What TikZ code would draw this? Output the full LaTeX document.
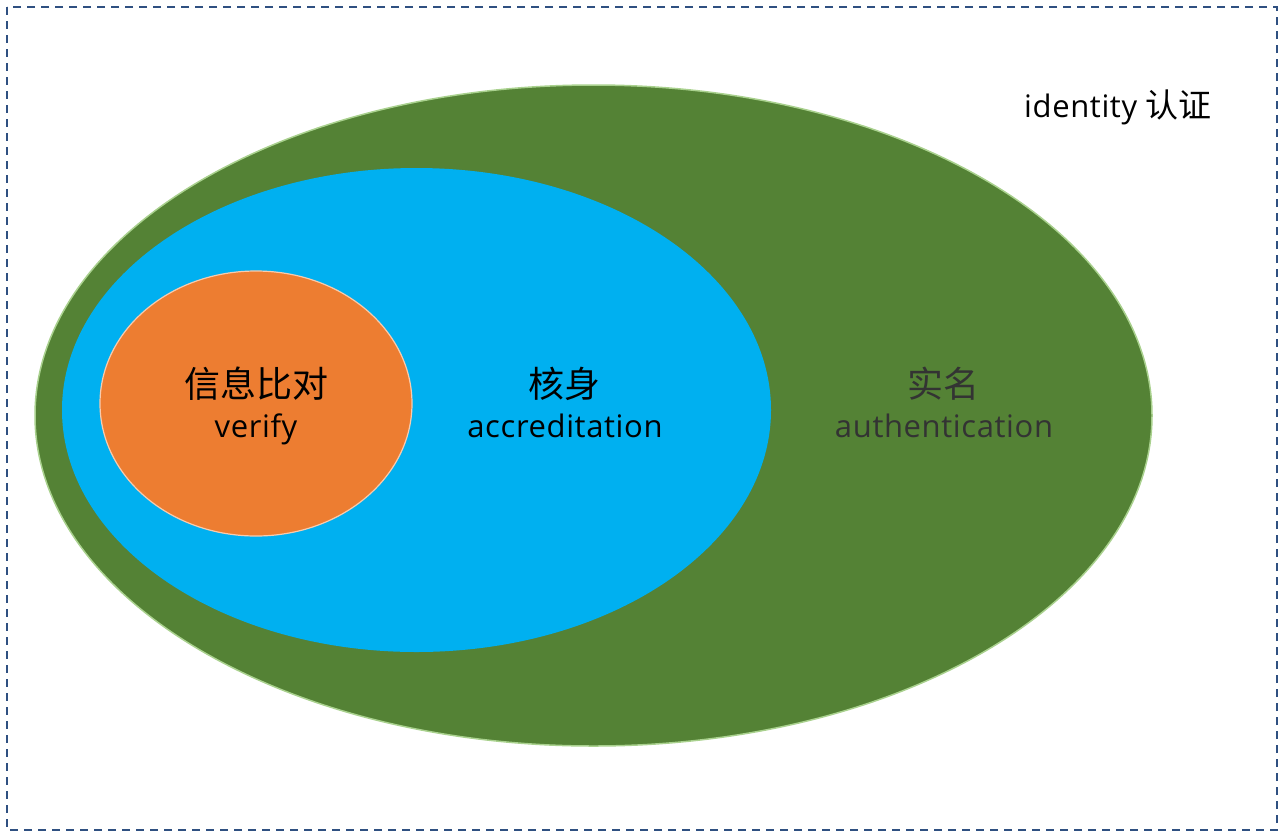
\documentclass[tikz,border=0pt]{standalone}
\usepackage{fontspec}
\usetikzlibrary{shapes.geometric}
\newfontfamily\cjk{Noto Sans CJK SC}
\newfontfamily\lat[LetterSpace=2]{Open Sans}
\definecolor{frameblue}{HTML}{2F5081}
\definecolor{outgreen}{HTML}{548235}
\definecolor{outgreenline}{HTML}{A9D18E}
\definecolor{midblue}{HTML}{00B0F0}
\definecolor{inorange}{HTML}{ED7D31}
\definecolor{inorangeline}{HTML}{F8CBAD}
\definecolor{darktext}{HTML}{333333}
\tikzset{
  blob/.style={ellipse, inner sep=0pt, outer sep=0pt},
  cjklabel/.style={anchor=base, inner sep=0pt, font=\cjk\fontsize{36}{40}\selectfont},
  latlabel/.style={anchor=base, inner sep=0pt, font=\lat\fontsize{31}{35}\selectfont},
}
\begin{document}
\begin{tikzpicture}[x=1pt,y=-1pt]
\useasboundingbox (0,0) rectangle (1285,839);
\draw[frameblue, line width=1.5pt, dash pattern=on 8pt off 6pt] (7,7) rectangle (1277,830);
\node[blob, fill=outgreen, draw=outgreenline, line width=1.5pt, minimum width=1117pt, minimum height=661pt] (green) at (593.5,415.5) {};
\node[blob, fill=midblue, minimum width=709pt, minimum height=484pt] (blue) at (416.5,410) {};
\node[blob, fill=inorange, draw=inorangeline, line width=1.2pt, minimum width=312pt, minimum height=265pt] (orange) at (256,403.5) {};
\node[cjklabel] (t1) at (256,397) {信息比对};
\node[latlabel] (t1b) at (256,437) {verify};
\node[cjklabel] (t2) at (564,397) {核身};
\node[latlabel] (t2b) at (565,437) {accreditation};
\node[cjklabel, text=darktext] (t3) at (943,397) {实名};
\node[latlabel, text=darktext] (t3b) at (944,437) {authentication};
\node[anchor=base west, inner sep=0pt] (title) at (1024,117) {\lat\fontsize{31}{35}\selectfont identity {\cjk\fontsize{33}{36}\selectfont 认证}};
\end{tikzpicture}
\end{document}
